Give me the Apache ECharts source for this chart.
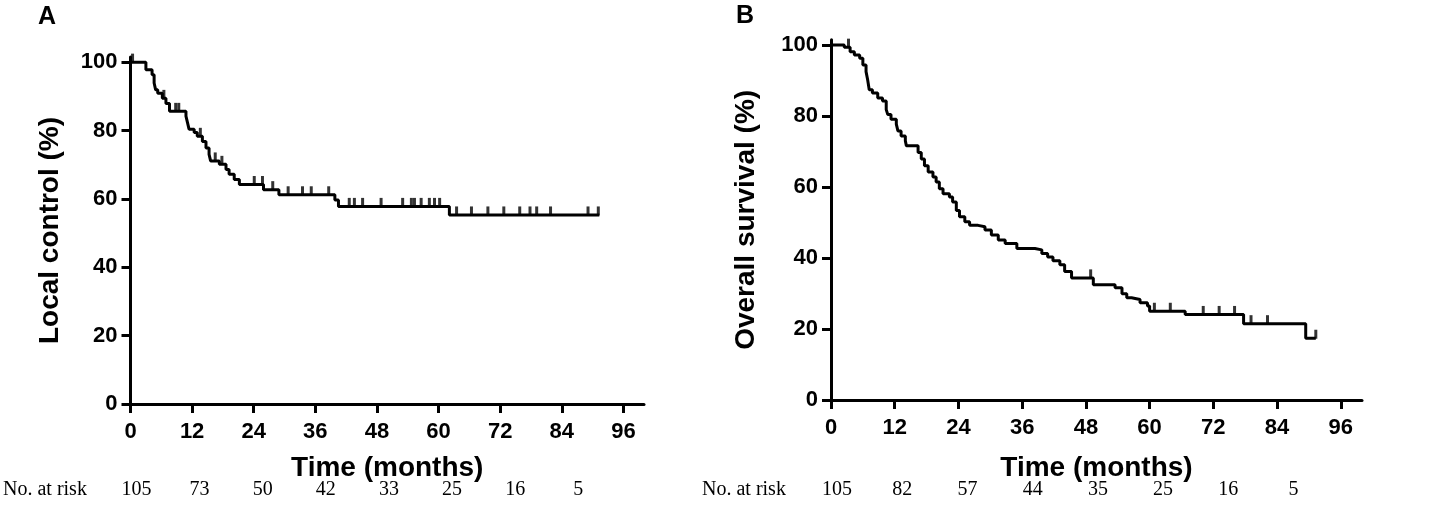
<!DOCTYPE html>
<html>
<head>
<meta charset="utf-8">
<script src="https://cdn.jsdelivr.net/npm/echarts@6/dist/echarts.min.js"></script>
<style>
html, body { margin: 0; padding: 0; background: #fff; }
#container { width: 1442px; height: 508px; }
</style>
</head>
<body>
<div id="container"></div>
<script>
// panel A - local control, KM steps [month, %] (value after each drop)
var lcSteps = [[0,100],[3.0,97.8],[4.2,96.3],[4.6,93.9],[4.9,91.9],[5.3,90.9],[6.2,89.4],[6.9,87.9],
  [7.6,85.6],[10.8,84.2],[11.1,82.3],[11.4,80.4],[12.4,79.4],[13.0,78.3],[14.0,76.8],[14.7,74.9],
  [15.3,73.0],[15.6,71.1],[17.3,70.1],[18.6,68.6],[19.2,67.2],[20.2,65.7],[21.2,64.2],[25.9,62.7],
  [28.9,61.2],[39.8,59.7],[40.5,57.8],[62.1,55.3]];
var lcLast = 91.3;
var lcCensor = [0.4,6.5,8.8,9.4,13.6,16.5,17.8,24.1,25.7,27.7,30.7,33.5,35.2,38.6,
  42.6,43.6,45.2,48.8,53.0,54.7,55.3,56.6,58.2,59.2,60.2,
  63.5,66.4,69.6,72.7,75.8,77.8,79.1,81.8,89.1,91.1];
var lcRisk = [105,73,50,42,33,25,16,5];

// panel B - overall survival
var osSteps = [[0,100],[2.5,99.4],[3.6,98.1],[4.4,97.2],[5.4,96.3],[6.0,94.4],[6.6,92.5],[6.9,90.2],
  [7.2,87.4],[7.8,86.5],[8.8,85.1],[9.7,84.2],[10.4,81.8],[10.7,80.4],[11.3,79.1],[12.3,77.7],
  [12.6,75.8],[13.2,74.4],[14.0,73.0],[14.2,71.6],[16.4,69.7],[17.0,67.9],[17.6,66.0],[18.3,64.2],
  [19.2,62.8],[19.8,61.4],[20.4,59.5],[21.1,58.1],[22.3,57.2],[22.9,55.8],[23.6,53.4],[24.2,51.6],
  [25.2,50.2],[26.1,49.2],[27.7,48.8],[29.0,47.9],[30.2,46.5],[31.5,45.1],[32.8,44.1],[35.0,42.7],
  [38.4,42.3],[39.7,41.3],[40.8,40.3],[41.8,39.2],[43.1,38.1],[44.0,36.2],[45.3,34.4],[49.4,32.5],
  [53.5,31.6],[54.8,29.9],[55.7,28.8],[56.6,28.3],[58.2,27.4],[59.6,26.5],[60.0,25.0],[66.7,24.1],
  [77.7,21.5],[89.4,17.4]];
var osLast = 91.3;
var osCensor = [3.3,48.9,60.9,63.9,70.1,73.1,76.0,79.1,82.2,91.3];
var osRisk = [105,82,57,44,35,25,16,5];

var riskTimes = [0,12,24,36,48,60,72,84];
var xTicks = [0,12,24,36,48,60,72,84,96];
var yTicks = [0,20,40,60,80,100];

function valueAt(steps, t) {
  var v = steps[0][1];
  for (var i = 0; i < steps.length; i++) {
    if (steps[i][0] <= t) v = steps[i][1];
  }
  return v;
}
function lineData(steps, last) {
  return steps.concat([[last, steps[steps.length - 1][1]]]);
}
function censorData(steps, times) {
  return times.map(function (t) { return [t, valueAt(steps, t)]; });
}

var axisStyle = { lineStyle: { color: '#000', width: 3 } };
var tickStyle = { show: true, inside: false, length: 9, lineStyle: { color: '#000', width: 3 } };
var labelFont = { color: '#000', fontFamily: 'Liberation Sans', fontWeight: 'bold', fontSize: 22 };
var nameFont = { color: '#000', fontFamily: 'Liberation Sans', fontWeight: 'bold', fontSize: 28 };

function xAxis(idx, gap) {
  return {
    type: 'value', gridIndex: idx, min: 0, max: 100,
    name: 'Time (months)', nameLocation: 'middle', nameGap: gap, nameTextStyle: nameFont,
    axisLine: Object.assign({ onZero: false }, axisStyle),
    axisTick: Object.assign({ customValues: xTicks }, tickStyle),
    axisLabel: Object.assign({ customValues: xTicks, margin: 17 }, labelFont),
    splitLine: { show: false }
  };
}
function yAxis(idx, name, gap) {
  return {
    type: 'value', gridIndex: idx, min: 0, max: 101.5,
    name: name, nameLocation: 'middle', nameGap: gap, nameTextStyle: nameFont,
    axisLine: axisStyle,
    axisTick: Object.assign({ customValues: yTicks }, tickStyle),
    axisLabel: Object.assign({ customValues: yTicks, margin: 13 }, labelFont),
    splitLine: { show: false }
  };
}
function kmSeries(idx, steps, last) {
  return {
    type: 'line', xAxisIndex: idx, yAxisIndex: idx, step: 'end',
    data: lineData(steps, last), symbol: 'none', silent: true,
    lineStyle: { color: '#000', width: 3 }
  };
}
function censorSeries(idx, steps, times) {
  return {
    type: 'scatter', xAxisIndex: idx, yAxisIndex: idx,
    data: censorData(steps, times), symbol: 'rect', symbolSize: [3, 9],
    symbolOffset: [0, -4], itemStyle: { color: '#000' }, silent: true
  };
}

var chart = echarts.init(document.getElementById('container'));
chart.setOption({
  animation: false,
  backgroundColor: '#fff',
  grid: [
    { left: 130.5, right: 798, top: 57, bottom: 104 },
    { left: 831, right: 80, top: 39.7, bottom: 108 }
  ],
  xAxis: [xAxis(0, 50), xAxis(1, 54)],
  yAxis: [yAxis(0, 'Local control (%)', 66), yAxis(1, 'Overall survival (%)', 71)],
  series: [
    kmSeries(0, lcSteps, lcLast), censorSeries(0, lcSteps, lcCensor),
    kmSeries(1, osSteps, osLast), censorSeries(1, osSteps, osCensor)
  ]
});

// panel letters and number-at-risk rows
var serif = { fill: '#000', fontFamily: 'Liberation Serif', fontSize: 20, textVerticalAlign: 'middle' };
var graphics = [
  { type: 'text', left: 38, top: 5, style: { text: 'A', fill: '#000', fontFamily: 'Liberation Sans', fontWeight: 'bold', fontSize: 25 } },
  { type: 'text', left: 736, top: 4, style: { text: 'B', fill: '#000', fontFamily: 'Liberation Sans', fontWeight: 'bold', fontSize: 25 } },
  { type: 'text', x: 3, y: 490, style: Object.assign({ text: 'No. at risk' }, serif) },
  { type: 'text', x: 702, y: 490, style: Object.assign({ text: 'No. at risk' }, serif) }
];
[[0, lcRisk], [1, osRisk]].forEach(function (p) {
  p[1].forEach(function (n, i) {
    var px = chart.convertToPixel({ xAxisIndex: p[0] }, riskTimes[i]);
    graphics.push({ type: 'text', x: px + 6 + i * 1.5, y: 490,
      style: Object.assign({ text: String(n), textAlign: 'center' }, serif) });
  });
});
chart.setOption({ graphic: graphics });
</script>
</body>
</html>
